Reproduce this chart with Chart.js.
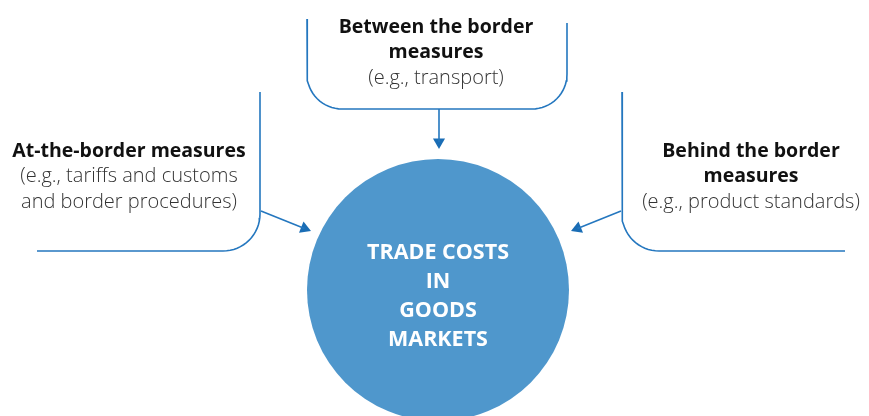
<!DOCTYPE html>
<html>
<head>
<meta charset="utf-8">
<script src="https://cdn.jsdelivr.net/npm/chart.js@4/dist/chart.umd.min.js"></script>
<style>
  html, body { margin: 0; padding: 0; background: #ffffff; }
  #wrap { width: 869px; height: 416px; }
</style>
</head>
<body>
<div id="wrap"><canvas id="c" width="869" height="416"></canvas></div>
<script>
// ---- content ----
const nodeNames = ["At-the-border measures", "Between the border measures", "Behind the border measures"];
const nodeTitleLines = [["At-the-border measures"], ["Between the border", "measures"], ["Behind the border", "measures"]];
const nodeExampleLines = [["(e.g., tariffs and customs", "and border procedures)"], ["(e.g., transport)"], ["(e.g., product standards)"]];
const centerLines = ["TRADE COSTS", "IN", "GOODS", "MARKETS"];

// ---- layout (diagram coordinates, drawn through the chart scales) ----
const W = 869, H = 416;
const circle = { x: 438, y: 290, r: 131 };
const textAnchors = [ { x: 129, y: 151 }, { x: 436, y: 27 }, { x: 751, y: 151 } ];
const lineStep = 25.5;

function arcPts(cx, cy, r, a0, a1, n) {
  const pts = [];
  for (let i = 0; i <= n; i++) {
    const a = a0 + (a1 - a0) * i / n;
    pts.push({ x: cx + r * Math.cos(a), y: cy + r * Math.sin(a) });
  }
  return pts;
}
const R = 37;
const leftBox = [{ x: 260, y: 92 }].concat(arcPts(260 - R, 251 - R, R, 0, Math.PI / 2, 16)).concat([{ x: 37, y: 251 }]);
const Rt = 35;
const topBox = [{ x: 307, y: 19 }]
  .concat(arcPts(307 + Rt, 109 - Rt, Rt, Math.PI, Math.PI / 2, 16))
  .concat(arcPts(567 - Rt, 109 - Rt, Rt, Math.PI / 2, 0, 16))
  .concat([{ x: 567, y: 23 }]);
const rightBox = [{ x: 622, y: 92 }].concat(arcPts(622 + R, 251 - R, R, Math.PI, Math.PI / 2, 16)).concat([{ x: 845, y: 251 }]);

const arrows = [
  { from: { x: 261, y: 211 }, to: { x: 311, y: 231 } },
  { from: { x: 439, y: 109 }, to: { x: 439, y: 149 } },
  { from: { x: 621, y: 211 }, to: { x: 571, y: 231 } }
];
const headR = 7;

const lineColor = "#2477bf";
const circleColor = "#4f97cc";

const datasets = [];
datasets.push({
  label: "center", data: [{ x: circle.x, y: circle.y }], showLine: false,
  pointRadius: circle.r, pointHoverRadius: circle.r, backgroundColor: circleColor, borderWidth: 0, clip: false
});
[leftBox, topBox, rightBox].forEach((pts, i) => {
  datasets.push({ label: nodeNames[i], data: pts, showLine: true, borderColor: lineColor, borderWidth: 1.6,
    pointRadius: 0, fill: false, tension: 0, clip: false });
});
arrows.forEach((a, i) => {
  const dx = a.to.x - a.from.x, dy = a.to.y - a.from.y;
  const len = Math.hypot(dx, dy), ux = dx / len, uy = dy / len;
  const rot = Math.atan2(dx, -dy) * 180 / Math.PI;
  const c = { x: a.to.x - ux * headR, y: a.to.y - uy * headR };
  datasets.push({ label: "shaft" + i, data: [a.from, c], showLine: true, borderColor: lineColor, borderWidth: 1.6,
    pointRadius: 0, clip: false });
  datasets.push({ label: "head" + i, data: [c], showLine: false, pointStyle: "triangle", rotation: rot,
    pointRadius: headR, backgroundColor: "#1a6db5", borderColor: "#1a6db5", borderWidth: 0, clip: false });
});

const textPlugin = {
  id: "diagramText",
  afterDatasetsDraw(chart) {
    const ctx = chart.ctx, xs = chart.scales.x, ys = chart.scales.y;
    ctx.save();
    ctx.textAlign = "center";
    ctx.textBaseline = "middle";
    textAnchors.forEach((p, i) => {
      let y = p.y;
      const x = xs.getPixelForValue(p.x);
      ctx.font = "bold 19.5px 'Open Sans'";
      ctx.fillStyle = "#111111";
      nodeTitleLines[i].forEach(t => { ctx.fillText(t, x, ys.getPixelForValue(y)); y += lineStep; });
      ctx.font = "300 20px 'Open Sans'";
      ctx.fillStyle = "#333333";
      nodeExampleLines[i].forEach(t => { ctx.fillText(t, x, ys.getPixelForValue(y)); y += lineStep; });
    });
    ctx.font = "bold 21.5px 'Open Sans'";
    ctx.fillStyle = "#ffffff";
    let cy = 253;
    centerLines.forEach(t => { ctx.fillText(t, xs.getPixelForValue(circle.x), ys.getPixelForValue(cy)); cy += 29; });
    ctx.restore();
  }
};

new Chart(document.getElementById("c"), {
  type: "scatter",
  data: { datasets },
  options: {
    responsive: false,
    animation: false,
    devicePixelRatio: 1,
    events: [],
    layout: { padding: 0, autoPadding: false },
    plugins: { legend: { display: false }, tooltip: { enabled: false } },
    scales: {
      x: { type: "linear", min: 0, max: W, display: false },
      y: { type: "linear", min: 0, max: H, reverse: true, display: false }
    }
  },
  plugins: [textPlugin]
});
</script>
</body>
</html>
